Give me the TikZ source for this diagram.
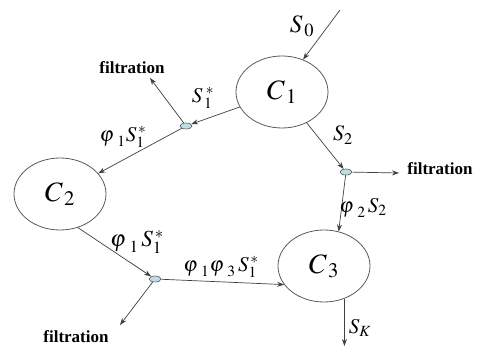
\documentclass[tikz,border=0pt]{standalone}
\usepackage{mathptmx}
\usepackage{fontspec}
\setmainfont{Liberation Serif}
\usetikzlibrary{shapes.geometric,arrows.meta}
\definecolor{jfill}{HTML}{BFDDE6}
\definecolor{lineg}{HTML}{404040}
\definecolor{cellg}{HTML}{5A5A5A}
\newcommand{\vph}[1]{{\varphi\mkern3mu}_{#1}}
\begin{document}
\begin{tikzpicture}[x=1pt,y=-1pt,
 cell/.style={ellipse,draw=cellg,line width=0.8pt,minimum width=92pt,minimum height=72pt,inner sep=0pt,font=\fontsize{28}{28}\selectfont},
 junc/.style={ellipse,draw=cellg,fill=jfill,line width=0.6pt,minimum width=12pt,minimum height=6pt,inner sep=0pt},
 flow/.style={draw=lineg,line width=0.7pt,-{Stealth[length=7pt,width=5pt]}},
 lab/.style={font=\fontsize{21}{21}\selectfont,inner sep=0pt},
 filt/.style={font=\bfseries\fontsize{17}{17}\selectfont,inner sep=0pt}]
\useasboundingbox (0,0) rectangle (480,347);
\fill[white] (0,0) rectangle (480,347);
% cells
\node[cell] (C1) at (282,92) {$C_{\,1}$};
\node[cell] (C2) at (60,194) {$C_{\,2}$};
\node[cell] (C3) at (324,266) {$C_{\,3}$};
% junctions
\node[junc] (J1) at (186,126) {};
\node[junc] (J2) at (346,172) {};
\node[junc] (J3) at (155,279) {};
% free ends
\coordinate (s0) at (340,10);
\coordinate (f1) at (150,78);
\coordinate (f2) at (399,173);
\coordinate (f3) at (120,325);
\coordinate (sk) at (347,346);
% connectors
\draw[flow] (s0) -- (C1.57);
\draw[flow] (C1) -- (J1);
\draw[flow] (J1) -- (C2);
\draw[flow] (J1) -- (f1);
\draw[flow] (C1) -- (J2);
\draw[flow] (J2) -- (f2);
\draw[flow] (J2) -- (C3.67);
\draw[flow] (C2.-62) -- (J3);
\draw[flow] (J3) -- (C3.205);
\draw[flow] (J3) -- (f3);
\draw[flow] (C3.-58) -- (C3.-58 |- sk);
% labels
\node[lab,font=\fontsize{25}{25}\selectfont] (lS0) at (302,26) {$S_{\,0}$};
\node[lab] (lS1) at (203,98) {$S_{\,1}^{\;*}$};
\node[lab] (lp1) at (123,137) {$\vph{1} S_1^{\,*}$};
\node[lab,font=\fontsize{22}{22}\selectfont] (lS2) at (343,135) {$S_2$};
\node[lab] (lp2) at (363,208) {$\vph{2} \, S_2$};
\node[lab,font=\fontsize{23}{23}\selectfont] (lp1b) at (137,242) {$\vph{1}\, S_1^{\,*}$};
\node[lab] (lp13) at (221,267) {$\vph{1}\vph{3}\, S_1^{\,*}$};
\node[lab] (lSK) at (360,328) {$S_K$};
\node[filt] (t1) at (132,68) {filtration};
\node[filt] (t2) at (440,169) {filtration};
\node[filt] (t3) at (76,337) {filtration};
\end{tikzpicture}
\end{document}
